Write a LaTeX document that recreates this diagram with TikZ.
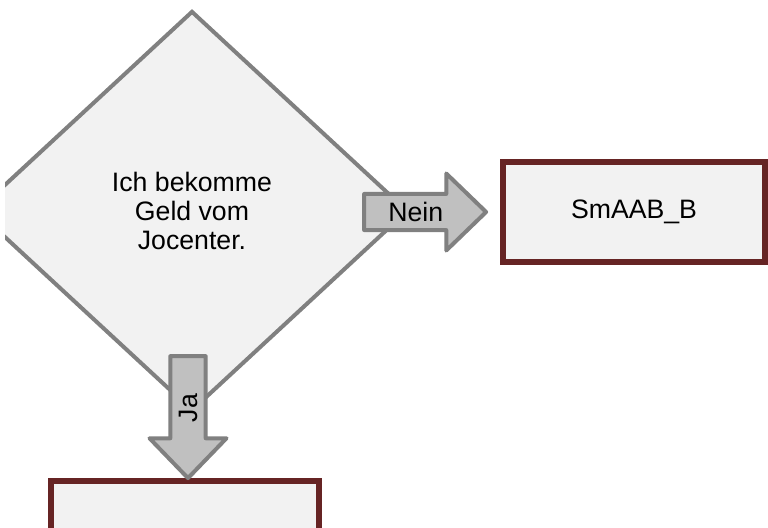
\documentclass[tikz,border=0pt]{standalone}
\usepackage{fontspec}
\setmainfont{Liberation Sans}
\usetikzlibrary{shapes.geometric,shapes.arrows}

\definecolor{edgegray}{HTML}{808080}
\definecolor{arrowgray}{HTML}{C0C0C0}
\definecolor{boxfill}{HTML}{F2F2F2}
\definecolor{boxred}{HTML}{662424}

\tikzset{
  decision/.style={diamond, draw=edgegray, fill=boxfill, line width=3pt,
    minimum width=324pt, minimum height=300pt, inner sep=0pt, align=center},
  result/.style={rectangle, draw=boxred, fill=boxfill, line width=4.5pt,
    minimum height=75pt, inner sep=0pt},
  blockarrow/.style={single arrow, draw=edgegray, fill=arrowgray, line width=3pt,
    line join=round, minimum height=91.5pt, minimum width=57.75pt,
    single arrow head extend=10pt, single arrow tip angle=88, inner sep=0pt}
}

\begin{document}
\begin{tikzpicture}[x=0.75pt,y=-0.75pt,font=\fontsize{20}{21.75}\selectfont]
  \useasboundingbox (0,0) rectangle (768,528);
  \clip (5,0) rectangle (768,528);

  % Decision and results
  \node[decision] (frage) at (192,211) {Ich bekomme\\Geld vom\\Jocenter.};
  \node[result, minimum width=196.5pt] (nein box) at (634,212) {SmAAB\_B};
  \node[result, minimum width=200.5pt] (ja box) at (185,531) {};

  % Arrows
  \node[blockarrow, anchor=tip] (nein) at ([xshift=-8.25pt]nein box.west) {Nein};
  \node[blockarrow, anchor=tip, rotate=90, shape border rotate=180] (ja)
    at ([shift={(2.25pt,-2.25pt)}]ja box.north) {Ja};
\end{tikzpicture}
\end{document}
